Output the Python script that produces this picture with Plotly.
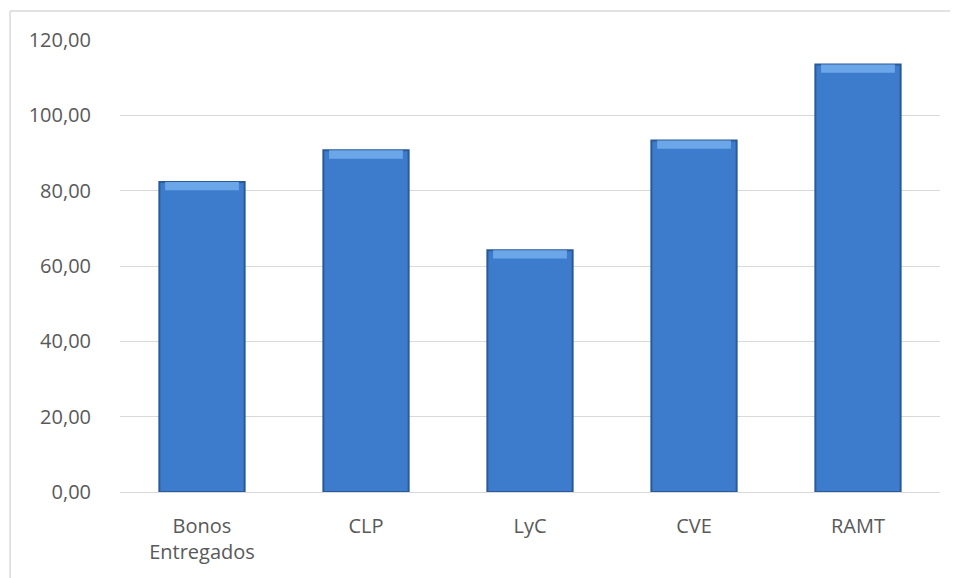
import plotly.graph_objects as go

categories = ["Bonos<br>Entregados", "CLP", "LyC", "CVE", "RAMT"]
values = [82.3, 90.7, 64.2, 93.3, 113.5]
y_ticks = [0, 20, 40, 60, 80, 100, 120]
y_tick_labels = ["0,00", "20,00", "40,00", "60,00", "80,00", "100,00", "120,00"]

bevel = 2.2
fig = go.Figure()
fig.add_trace(go.Bar(
    x=categories, y=values, width=0.52,
    marker=dict(color="#3D7CCC", line=dict(color="#2A5A97", width=2)),
    hoverinfo="skip", showlegend=False,
))
fig.add_trace(go.Bar(
    x=categories, y=[bevel] * len(values), base=[v - bevel for v in values], width=0.45,
    marker=dict(color="#6AA6E8", line=dict(width=0)),
    hoverinfo="skip", showlegend=False,
))

fig.update_layout(
    width=950, height=570,
    margin=dict(l=112, r=18, t=32, b=86),
    barmode="overlay",
    plot_bgcolor="white", paper_bgcolor="white",
    font=dict(family="Open Sans, Liberation Sans, sans-serif", size=20, color="#595959"),
    xaxis=dict(showline=False, showgrid=False, ticks="outside", ticklen=16, tickcolor="white",
               tickfont=dict(size=20, color="#595959")),
    yaxis=dict(range=[0, 120], tickvals=y_ticks, ticktext=y_tick_labels,
               showgrid=True, gridcolor="#D9D9D9", gridwidth=1,
               zeroline=True, zerolinecolor="#D9D9D9", zerolinewidth=1,
               showline=False, ticks="outside", ticklen=24, tickcolor="white",
               tickfont=dict(size=20, color="#595959")),
    shapes=[
        dict(type="line", xref="paper", yref="paper", x0=-0.134, x1=1.1, y0=1.064, y1=1.064,
             line=dict(color="#D9D9D9", width=1.5)),
        dict(type="line", xref="paper", yref="paper", x0=-0.134, x1=-0.134, y0=1.064, y1=-0.2,
             line=dict(color="#D9D9D9", width=1.5)),
    ],
)

fig.write_html("out.html")
